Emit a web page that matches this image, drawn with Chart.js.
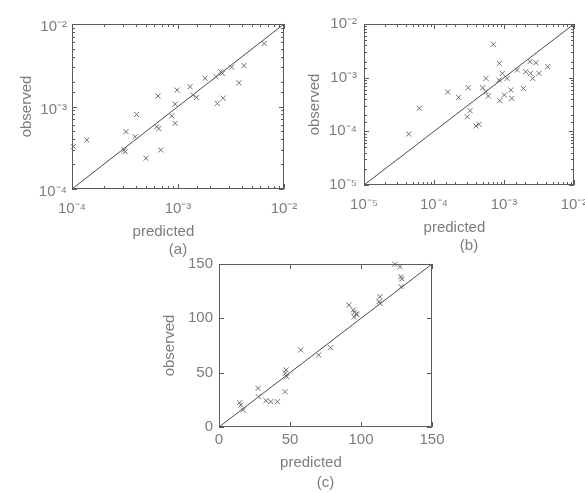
<!DOCTYPE html>
<html><head><meta charset="utf-8">
<script src="https://cdn.jsdelivr.net/npm/chart.js@4"></script>
<style>
html,body{margin:0;padding:0;background:#fff;}
#wrap{position:relative;width:585px;height:493px;overflow:hidden;background:#fff;}
canvas{position:absolute;}
</style></head><body>
<div id="wrap">
<canvas id="ca" width="300" height="262" style="left:0px;top:0px"></canvas>
<canvas id="cb" width="293" height="262" style="left:292px;top:0px"></canvas>
<canvas id="cc" width="300" height="243" style="left:150px;top:250px"></canvas>
</div>
<script>
// ---------- data ----------
const aPredicted = [1.03e-4, 1.38e-4, 3.23e-4, 3.1e-4, 3.18e-4, 4.07e-4, 3.93e-4, 4.99e-4, 6.47e-4, 6.3e-4, 6.58e-4, 6.87e-4, 8.73e-4, 9.4e-4, 9.4e-4, 9.8e-4, 1.30e-3, 1.39e-3, 1.5e-3, 1.80e-3, 2.28e-3, 2.35e-3, 2.53e-3, 2.62e-3, 2.67e-3, 3.2e-3, 3.76e-3, 4.2e-3, 6.5e-3];
const aObserved  = [3.26e-4, 3.93e-4, 4.95e-4, 2.97e-4, 2.83e-4, 8.0e-4, 4.3e-4, 2.36e-4, 1.34e-3, 5.7e-4, 5.4e-4, 2.97e-4, 7.7e-4, 1.07e-3, 6.25e-4, 1.58e-3, 1.74e-3, 1.38e-3, 1.29e-3, 2.2e-3, 2.3e-3, 1.09e-3, 2.64e-3, 2.52e-3, 1.26e-3, 2.99e-3, 1.94e-3, 3.13e-3, 5.8e-3];

const bPredicted = [4.35e-5, 6.17e-5, 1.57e-4, 2.25e-4, 3.09e-4, 3.27e-4, 2.99e-4, 3.98e-4, 4.4e-4, 4.97e-4, 5.53e-4, 5.53e-4, 5.97e-4, 7.05e-4, 8.57e-4, 8.5e-4, 8.7e-4, 9.46e-4, 1.01e-3, 1.11e-3, 1.25e-3, 1.29e-3, 1.55e-3, 1.89e-3, 2.04e-3, 2.35e-3, 2.4e-3, 2.57e-3, 2.86e-3, 3.16e-3, 4.2e-3];
const bObserved  = [8.9e-5, 2.69e-4, 5.4e-4, 4.3e-4, 6.5e-4, 2.43e-4, 1.87e-4, 1.26e-4, 1.35e-4, 6.5e-4, 9.7e-4, 5.5e-4, 4.55e-4, 4.19e-3, 1.85e-3, 9.0e-4, 3.72e-4, 1.2e-3, 4.75e-4, 9.7e-4, 5.9e-4, 4.1e-4, 1.39e-3, 6.3e-4, 1.29e-3, 1.99e-3, 1.2e-3, 9.7e-4, 1.9e-3, 1.2e-3, 1.6e-3];

const cPredicted = [14.5, 15.3, 17.1, 27.5, 27.7, 33.1, 36.4, 41.1, 46.5, 46.8, 47.2, 47.7, 57.5, 70.2, 78.6, 91.5, 94.6, 95.3, 96.5, 97.2, 95.1, 113.4, 112.7, 113.4, 123.9, 127.5, 128.2, 128.7, 128.2];
const cObserved  = [22.4, 20.2, 15.6, 35.6, 27.9, 24.2, 23.3, 23.3, 32.5, 49.5, 52.5, 46.3, 70.9, 66.3, 73, 112.3, 107.7, 105.5, 104, 103.5, 101.5, 119.9, 115.3, 113.8, 149.7, 147.5, 138.3, 136.2, 129.1];

// axis limits / tick labels
const aRange = [1e-4, 1e-2];
const aTickExponents = [-4, -3, -2];
const aTickLabels = ['10⁻⁴', '10⁻³', '10⁻²'];
const bRange = [1e-5, 1e-2];
const bTickExponents = [-5, -4, -3, -2];
const bTickLabels = ['10⁻⁵', '10⁻⁴', '10⁻³', '10⁻²'];
const cRange = [0, 150];
const cTicks = [0, 50, 100, 150];
const cTickLabels = ['0', '50', '100', '150'];

// ---------- styling ----------
const TEXT = '#7c7c7c';
const FRAME = '#5a5a5a';
const FONT = '"Liberation Sans", Arial, sans-serif';
const XLABEL = 'predicted' + '\u00a0'.repeat(7);

function logCallback(exps, labels) {
  return function (v) {
    const e = Math.log10(v);
    const r = Math.round(e);
    if (Math.abs(e - r) > 1e-6) return '';
    const i = exps.indexOf(r);
    return i >= 0 ? labels[i] : '';
  };
}
function linCallback(ticks, labels) {
  return function (v) {
    const i = ticks.indexOf(v);
    return i >= 0 ? labels[i] : '';
  };
}

const frameTicks = {
  id: 'frameTicks',
  afterDraw(chart) {
    const { ctx, chartArea: ca, scales } = chart;
    const x = scales.x, y = scales.y;
    ctx.save();
    ctx.strokeStyle = FRAME;
    ctx.lineWidth = 1;
    ctx.beginPath();
    ctx.rect(ca.left + 0.5, ca.top + 0.5, ca.right - ca.left - 1, ca.bottom - ca.top - 1);
    ctx.stroke();
    const isMajor = (s, v) => s.type !== 'logarithmic' || Math.abs(Math.log10(v) - Math.round(Math.log10(v))) < 1e-6;
    ctx.beginPath();
    x.ticks.forEach(t => {
      const px = Math.round(x.getPixelForValue(t.value)) + 0.5;
      const len = isMajor(x, t.value) ? 5 : 3;
      ctx.moveTo(px, ca.bottom); ctx.lineTo(px, ca.bottom - len);
      ctx.moveTo(px, ca.top); ctx.lineTo(px, ca.top + len);
    });
    y.ticks.forEach(t => {
      const py = Math.round(y.getPixelForValue(t.value)) + 0.5;
      const len = isMajor(y, t.value) ? 5 : 3;
      ctx.moveTo(ca.left, py); ctx.lineTo(ca.left + len, py);
      ctx.moveTo(ca.right, py); ctx.lineTo(ca.right - len, py);
    });
    ctx.stroke();
    ctx.restore();
  }
};

function makeChart(id, p) {
  const pts = p.pred.map((v, i) => ({ x: v, y: p.obs[i] }));
  const diag = p.range.map(v => ({ x: v, y: v }));
  const scaleType = p.log ? 'logarithmic' : 'linear';
  const cb = p.log ? logCallback(p.exps, p.labels) : linCallback(p.ticks, p.labels);
  const common = {
    type: scaleType, min: p.range[0], max: p.range[1],
    grid: { display: false, drawTicks: false },
    border: { display: false },
  };
  if (!p.log) {
    common.afterBuildTicks = s => { s.ticks = p.ticks.map(v => ({ value: v })); };
  }
  return new Chart(document.getElementById(id), {
    type: 'scatter',
    data: {
      datasets: [
        { type: 'line', data: diag, borderColor: '#4a4a4a', borderWidth: 1, pointRadius: 0, fill: false, clip: false, order: 2 },
        { data: pts, pointStyle: 'crossRot', pointRadius: 3.6, borderColor: '#6e6e6e', backgroundColor: '#6e6e6e', borderWidth: 1, clip: false, order: 1 }
      ]
    },
    options: {
      responsive: false, animation: false, devicePixelRatio: 1,
      layout: { padding: { left: 0, top: p.padTop, right: p.padRight, bottom: 0 } },
      plugins: { legend: { display: false }, tooltip: { enabled: false } },
      scales: {
        x: Object.assign({}, common, {
          position: 'bottom',
          ticks: { autoSkip: false, maxRotation: 0, minRotation: 0, padding: p.xTickPad, color: TEXT, font: { family: FONT, size: 15 }, callback: cb },
          title: { display: true, text: [XLABEL, p.caption], color: TEXT, font: { family: FONT, size: 15, lineHeight: p.titleLH }, padding: { top: 0, bottom: p.titlePadB } },
          afterFit(s) { s.height = p.xHeight; s.paddingLeft = 0; s.paddingRight = 0; }
        }),
        y: Object.assign({}, common, {
          position: 'left',
          ticks: { autoSkip: false, padding: p.yTickPad, labelOffset: p.yLabelOffset, color: TEXT, font: { family: FONT, size: 15 }, callback: cb },
          title: { display: true, text: 'observed', color: TEXT, font: { family: FONT, size: 15 }, padding: { top: p.yTitlePad, bottom: 0 } },
          afterFit(s) { s.width = p.yWidth; s.paddingTop = 0; s.paddingBottom = 0; }
        })
      }
    },
    plugins: [frameTicks]
  });
}

makeChart('ca', { pred: aPredicted, obs: aObserved, range: aRange, log: true, exps: aTickExponents, labels: aTickLabels, caption: '(a)',
  padTop: 24, padRight: 16, xHeight: 73, yWidth: 72, xTickPad: 11, yTickPad: 5, yLabelOffset: 3, titleLH: 1.2, titlePadB: 3, yTitlePad: 18 });
makeChart('cb', { pred: bPredicted, obs: bObserved, range: bRange, log: true, exps: bTickExponents, labels: bTickLabels, caption: '(b)',
  padTop: 24, padRight: 11, xHeight: 77, yWidth: 72, xTickPad: 11, yTickPad: 7, yLabelOffset: 0, titleLH: 1.2, titlePadB: 7, yTitlePad: 14 });
makeChart('cc', { pred: cPredicted, obs: cObserved, range: cRange, log: false, ticks: cTicks, labels: cTickLabels, caption: '(c)',
  padTop: 14, padRight: 18, xHeight: 66, yWidth: 69, xTickPad: 4, yTickPad: 6, yLabelOffset: 0, titleLH: 1.33, titlePadB: 0, yTitlePad: 11 });
</script>
</body></html>
